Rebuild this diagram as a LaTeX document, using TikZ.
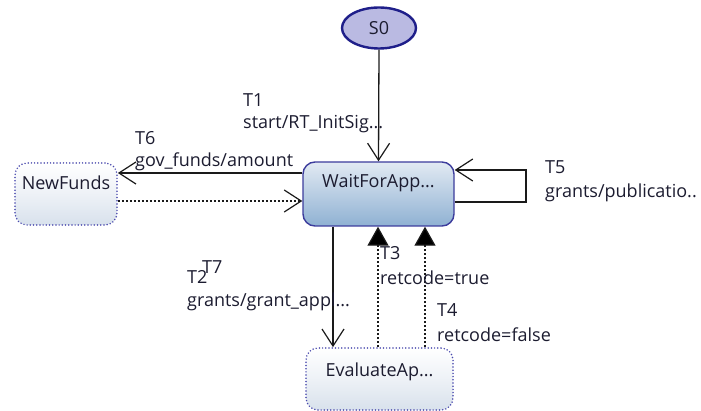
\documentclass[tikz,border=0pt]{standalone}
\usepackage{fontspec}
\setmainfont{Open Sans}
\usetikzlibrary{arrows.meta,shapes.geometric}
\definecolor{edgeblue}{HTML}{3C3C9C}
\definecolor{dotblue}{HTML}{4A4AAE}
\definecolor{navy}{HTML}{1F1F8A}
\definecolor{lavender}{HTML}{BABAE2}
\definecolor{topblue}{HTML}{E2EAF3}
\definecolor{botblue}{HTML}{8FB1D3}
\definecolor{paleblue}{HTML}{D8E1EC}
\definecolor{linegray}{HTML}{1A1A1A}
\definecolor{txtdark}{HTML}{1C1C30}
\tikzset{
  every node/.style={font=\fontsize{18}{20}\selectfont, text=txtdark},
  stbox/.style={rounded corners=12pt, draw=edgeblue, line width=1.4pt,
    top color=topblue, bottom color=botblue, inner sep=0pt},
  subbox/.style={rounded corners=12pt, draw=dotblue, line width=1.7pt, line cap=round,
    dash pattern=on 0pt off 3.2pt, top color=white, bottom color=paleblue,
    middle color=white!55!paleblue, inner sep=0pt},
  initst/.style={ellipse, draw=navy, line width=2.4pt, fill=lavender,
    minimum width=74pt, minimum height=41pt, inner sep=0pt},
  lbl/.style={anchor=west, inner sep=0pt},
  conn/.style={draw=linegray, line width=1.3pt},
  openarr/.style={conn, -{Straight Barb[length=17pt,width=22pt,line width=1.2pt]}},
  dashconn/.style={conn, line width=1.2pt, dash pattern=on 2pt off 2pt},
  fillarr/.style={dashconn, -{Triangle[length=19pt,width=21pt,fill=black]}},
}
\begin{document}
\begin{tikzpicture}[x=1pt,y=-1pt]
\useasboundingbox (0,0) rectangle (701,411);

% states
\node[initst] (s0) at (379,28) {S0};
\node[stbox, minimum width=151pt, minimum height=64pt,
  label={[yshift=11pt]center:WaitForApp...}] (w) at (378.5,194) {};
\node[subbox, minimum width=102pt, minimum height=62pt,
  label={[yshift=11pt]center:NewFunds}] (nf) at (66,194) {};
\node[subbox, minimum width=147pt, minimum height=62pt,
  label={[yshift=7pt]center:EvaluateAp...}] (ev) at (379.5,379) {};

% transitions
\draw[openarr] (s0.south) -- (w.north);
\draw[openarr] (w.west |- 0,173) -- (nf.east |- 0,173);
\draw[openarr, dashconn] (nf.east |- 0,201) -- (w.west |- 0,201);
\draw[openarr] (w.east |- 0,202) -- (526,202) -- (526,170) -- (w.east |- 0,170);
\draw[openarr] (w.south -| 333,0) -- (ev.north -| 333,0);
\draw[fillarr] (ev.north -| 378,0) -- (w.south -| 378,0);
\draw[fillarr] (ev.north -| 425,0) -- (w.south -| 425,0);

% transition labels
\node[lbl] (t1) at (243,100) {T1};
\node[lbl] (t1a) at (243,124) {start/RT\_InitSig...};
\node[lbl] (t6) at (135,138) {T6};
\node[lbl] (t6a) at (135,162) {gov\_funds/amount};
\node[lbl] (t5) at (545,167) {T5};
\node[lbl] (t5a) at (545,193) {grants/publicatio..};
\node[lbl] (t2) at (187,277) {T2};
\node[lbl] (t7) at (202,267) {T7};
\node[lbl] (t2a) at (187,302) {grants/grant\_appl...};
\node[lbl] (t3) at (380,253) {T3};
\node[lbl] (t3a) at (380,278) {retcode=true};
\node[lbl] (t4) at (437,310) {T4};
\node[lbl] (t4a) at (437,335) {retcode=false};
\end{tikzpicture}
\end{document}
